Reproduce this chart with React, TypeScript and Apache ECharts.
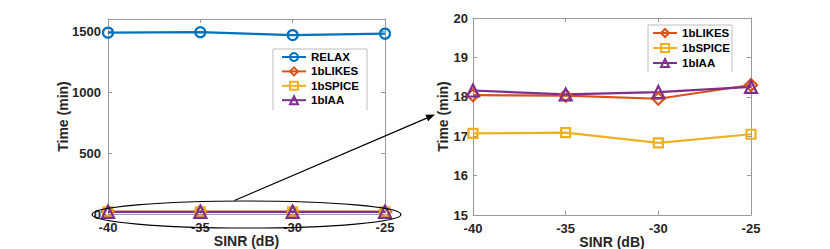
import React, { useEffect, useRef } from "react";
import * as echarts from "echarts";

const sinr = [-40, -35, -30, -25];
const relax = [1488, 1492, 1468, 1480];
const likes = [18.04, 18.03, 17.95, 18.3];
const spice = [17.07, 17.09, 16.83, 17.05];
const iaa = [18.16, 18.06, 18.12, 18.25];
const leftYTicks = [0, 500, 1000, 1500];
const rightYTicks = [15, 16, 17, 18, 19, 20];

const C = { relax: "#0072BD", likes: "#D95319", spice: "#EDB120", iaa: "#7E2F8E" };
const FONT = "Liberation Sans, Arial, sans-serif";
const AX = "#9a9a9a";
const TXT = "#262626";

function pairs(v: number[]) {
  return sinr.map((x, i) => [x, v[i]]);
}

function mkSeries(name: string, vals: number[], color: string, symbol: string, size: number, xi: number, yi: number) {
  return {
    type: "line",
    name,
    xAxisIndex: xi,
    yAxisIndex: yi,
    data: pairs(vals),
    color,
    symbol,
    symbolSize: size,
    showAllSymbol: true,
    lineStyle: { color, width: 2.2 },
    itemStyle: { color: "rgba(255,255,255,0)", borderColor: color, borderWidth: 2.2 },
    emphasis: { disabled: true },
  };
}

function xAx(grid: number, pos: "bottom" | "top", main: boolean) {
  return {
    type: "value",
    gridIndex: grid,
    position: pos,
    min: -40,
    max: -25,
    interval: 5,
    name: main ? "SINR (dB)" : "",
    nameLocation: "middle",
    nameGap: 20,
    nameMoveOverlap: false,
    nameTextStyle: { fontFamily: FONT, fontWeight: "bold", fontSize: 14, color: TXT },
    axisLine: { show: true, onZero: false, lineStyle: { color: AX, width: 1 } },
    axisTick: { show: true, inside: true, length: 4, lineStyle: { color: AX } },
    axisLabel: {
      show: main,
      margin: 7,
      fontFamily: FONT,
      fontWeight: "bold",
      fontSize: 13,
      color: TXT,
    },
    splitLine: { show: false },
  };
}

function yAx(grid: number, pos: "left" | "right", main: boolean, min: number, max: number, interval: number, gap: number, ticks: number[]) {
  return {
    type: "value",
    gridIndex: grid,
    position: pos,
    min,
    max,
    interval,
    name: main ? "Time (min)" : "",
    nameLocation: "middle",
    nameGap: gap,
    nameMoveOverlap: false,
    nameTextStyle: { fontFamily: FONT, fontWeight: "bold", fontSize: 14, color: TXT },
    axisLine: { show: true, onZero: false, lineStyle: { color: AX, width: 1 } },
    axisTick: { show: true, inside: true, length: 4, lineStyle: { color: AX } },
    axisLabel: {
      show: main,
      margin: main && grid === 0 ? 7 : 5,
      fontFamily: FONT,
      fontWeight: "bold",
      fontSize: 13,
      color: TXT,
      showMaxLabel: ticks.includes(max),
      formatter: (v: number) => (ticks.includes(v) ? String(v) : ""),
    },
    splitLine: { show: false },
  };
}

export default function App() {
  const ref = useRef<HTMLDivElement>(null);
  useEffect(() => {
    if (!ref.current) return;
    const chart = echarts.init(ref.current, null, { renderer: "svg" });
    const legendText = { fontFamily: FONT, fontWeight: "bold", fontSize: 11.5, color: "#000" };
    const option: any = {
      animation: false,
      backgroundColor: "#fff",
      grid: [
        { left: 108, right: 445, top: 19, bottom: 35, outerBoundsMode: "none", containLabel: false },
        { left: 473, right: 79, top: 18, bottom: 34, outerBoundsMode: "none", containLabel: false },
      ],
      xAxis: [xAx(0, "bottom", true), xAx(0, "top", false), xAx(1, "bottom", true), xAx(1, "top", false)],
      yAxis: [
        yAx(0, "left", true, 0, 1600, 500, 38, leftYTicks),
        yAx(0, "right", false, 0, 1600, 500, 0, leftYTicks),
        yAx(1, "left", true, 15, 20, 1, 23, rightYTicks),
        yAx(1, "right", false, 15, 20, 1, 0, rightYTicks),
      ],
      legend: [
        {
          left: 281,
          top: 51,
          orient: "vertical",
          data: ["RELAX", "1bLIKES", "1bSPICE", "1bIAA"],
          itemWidth: 24,
          itemHeight: 10,
          itemGap: 2.4,
          textStyle: legendText,
          selectedMode: false,
          padding: 0,
        },
        {
          left: 652,
          top: 27,
          orient: "vertical",
          data: ["1bLIKES", "1bSPICE", "1bIAA"],
          itemWidth: 24,
          itemHeight: 10,
          itemGap: 3,
          textStyle: legendText,
          selectedMode: false,
          padding: 0,
        },
      ],
      series: [
        mkSeries("RELAX", relax, C.relax, "circle", 10, 0, 0),
        mkSeries("1bLIKES", likes, C.likes, "diamond", 12, 0, 0),
        mkSeries("1bSPICE", spice, C.spice, "rect", 9, 0, 0),
        mkSeries("1bIAA", iaa, C.iaa, "triangle", 12, 0, 0),
        mkSeries("1bLIKES", likes, C.likes, "diamond", 12, 2, 2),
        mkSeries("1bSPICE", spice, C.spice, "rect", 9, 2, 2),
        mkSeries("1bIAA", iaa, C.iaa, "triangle", 12, 2, 2),
      ],
    };
    chart.setOption(option);

    const c = chart.convertToPixel({ xAxisIndex: 0, yAxisIndex: 0 }, [-32.5, 0]) as number[];
    const left = chart.convertToPixel({ xAxisIndex: 0 }, -40) as number;
    const rx = (c[0] - left) + 16;
    const ry = 13.5;
    const tip = chart.convertToPixel({ xAxisIndex: 2, yAxisIndex: 2 }, [-40, 17.55]) as number[];
    const sx = c[0] - 12;
    const sy = c[1] - ry;
    const tx = tip[0] - 38;
    const ty = tip[1];
    const ang = Math.atan2(ty - sy, tx - sx);
    const ah = 9;
    const aw = 3.5;
    const bx = tx - ah * Math.cos(ang);
    const by = ty - ah * Math.sin(ang);
    const px = -Math.sin(ang) * aw;
    const py = Math.cos(ang) * aw;

    chart.setOption({
      graphic: [
        {
          type: "polyline",
          shape: { points: [[273, 110], [273, 49], [367, 49], [367, 110]] },
          style: { stroke: "#bdbdbd", fill: null, lineWidth: 1 },
          silent: true,
          z: 1,
        },
        {
          type: "polyline",
          shape: { points: [[648, 72], [648, 25], [732, 25], [732, 72]] },
          style: { stroke: "#bdbdbd", fill: null, lineWidth: 1 },
          silent: true,
          z: 1,
        },
        {
          type: "ellipse",
          shape: { cx: c[0], cy: c[1] + 0.5, rx, ry },
          style: { stroke: "#000", fill: null, lineWidth: 1.2 },
          silent: true,
          z: 100,
        },
        {
          type: "line",
          shape: { x1: sx, y1: sy, x2: bx, y2: by },
          style: { stroke: "#000", lineWidth: 1.2 },
          silent: true,
          z: 100,
        },
        {
          type: "polygon",
          shape: { points: [[tx, ty], [bx + px, by + py], [bx - px, by - py]] },
          style: { fill: "#000" },
          silent: true,
          z: 100,
        },
      ],
    });
    return () => chart.dispose();
  }, []);
  return <div ref={ref} style={{ width: 830, height: 249, position: "absolute", left: 0, top: 0 }} />;
}
